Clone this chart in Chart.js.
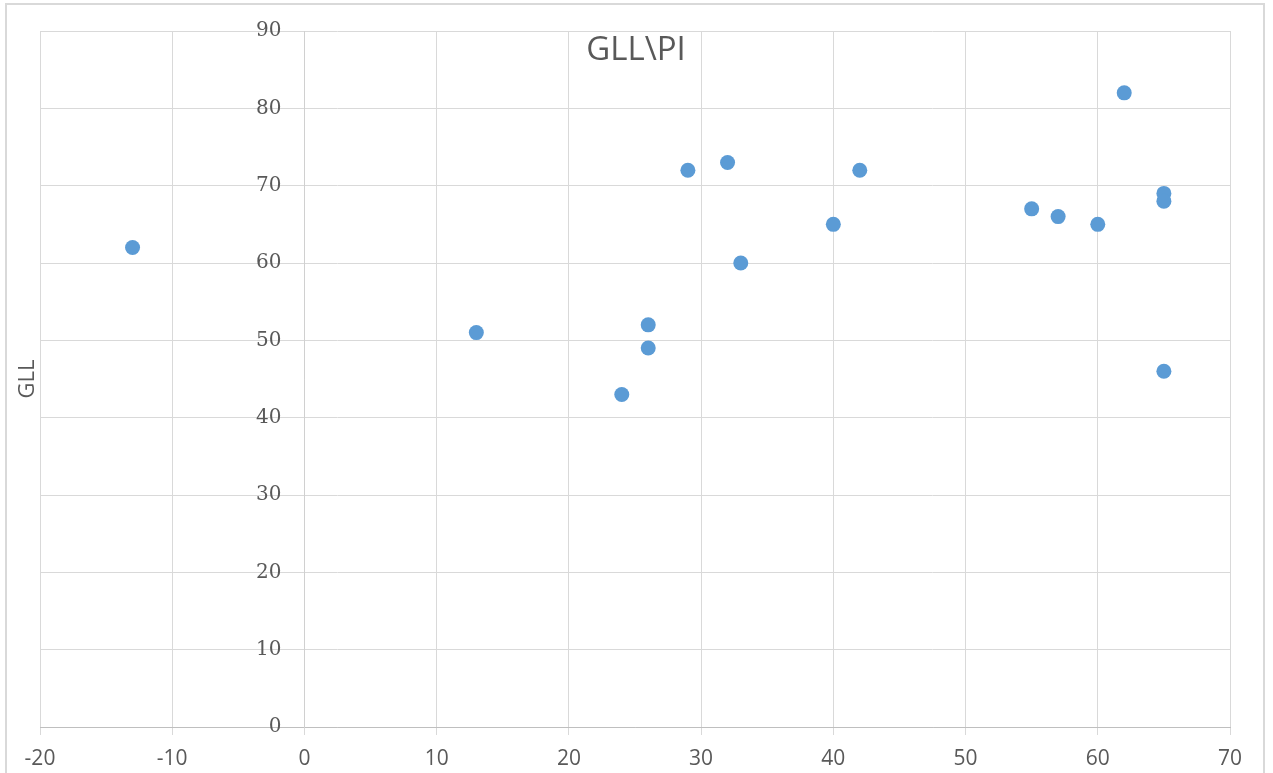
<!DOCTYPE html>
<html>
<head>
<meta charset="utf-8">
<script src="https://cdn.jsdelivr.net/npm/chart.js@4/dist/chart.umd.min.js"></script>
<style>
  html, body { margin: 0; padding: 0; background: #ffffff; overflow: hidden; }
  #wrap { position: absolute; left: 0; top: 0; width: 1273px; height: 773px; }
  #frame { position: absolute; left: 5px; top: 3px; width: 1256px; height: 800px; border: 2px solid #d9d9d9; pointer-events: none; }
</style>
</head>
<body>
<div id="wrap"><canvas id="c" width="1273" height="773"></canvas></div>
<div id="frame"></div>
<script>
// Data
const piValues  = [-13, 13, 24, 26, 26, 29, 32, 33, 40, 42, 55, 57, 60, 62, 65, 65, 65];
const gllValues = [ 62, 51, 43, 52, 49, 72, 73, 60, 65, 72, 67, 66, 65, 82, 69, 68, 46];
const chartTitle = 'GLL\\PI';
const yAxisTitle = 'GLL';
const xTickRange = { min: -20, max: 70, step: 10 };
const yTickRange = { min: 0, max: 90, step: 10 };

const points = piValues.map((x, i) => ({ x: x, y: gllValues[i] }));

const titlePlugin = {
  id: 'overlayTitle',
  afterDraw(chart) {
    const ctx = chart.ctx;
    ctx.save();
    ctx.font = '33px "Open Sans"';
    ctx.fillStyle = '#595959';
    ctx.textAlign = 'center';
    ctx.textBaseline = 'middle';
    ctx.fillText(chartTitle, 636, 51);
    ctx.restore();
  }
};

// Shift the y tick labels (axis crossing at x = 0) a little to the left of the axis line
const yLabelShift = {
  id: 'yLabelShift',
  beforeDraw(chart) {
    const scale = chart.scales.y;
    const items = scale.getLabelItems(chart.chartArea);
    if (items && !items._shifted) {
      items.forEach(it => { it.options.translation[0] -= 23; });
      items._shifted = true;
    }
  }
};

new Chart(document.getElementById('c'), {
  type: 'scatter',
  data: {
    datasets: [{
      label: chartTitle,
      data: points,
      backgroundColor: '#5b9bd5',
      borderColor: '#5b9bd5',
      pointRadius: 7.5,
      pointHoverRadius: 7.5,
      borderWidth: 0
    }]
  },
  options: {
    responsive: false,
    animation: false,
    devicePixelRatio: 1,
    layout: { padding: { top: 31, right: 43, bottom: 0, left: 0 } },
    plugins: {
      legend: { display: false },
      tooltip: { enabled: false },
      title: { display: false }
    },
    scales: {
      x: {
        type: 'linear',
        position: 'bottom',
        min: xTickRange.min,
        max: xTickRange.max,
        ticks: {
          stepSize: xTickRange.step,
          color: '#595959',
          font: { family: 'Open Sans', size: 21 },
          padding: 11
        },
        grid: { color: '#d9d9d9', tickLength: 8, drawTicks: true, tickColor: '#d9d9d9' },
        border: { color: '#bfbfbf' },
        afterFit(scale) { scale.height = 46; }
      },
      y: {
        type: 'linear',
        position: { x: 0 },
        min: yTickRange.min,
        max: yTickRange.max,
        ticks: {
          stepSize: yTickRange.step,
          color: '#595959',
          font: { family: 'DejaVu Serif', size: 20 },
          padding: 0
        },
        grid: { color: '#d9d9d9', drawTicks: false, tickLength: 0 },
        border: { color: '#d0d0d0' }
      },
      yTitle: {
        type: 'linear',
        position: 'left',
        min: 0,
        max: 1,
        ticks: { display: false },
        grid: { display: false, drawTicks: false },
        border: { display: false },
        title: {
          display: true,
          text: yAxisTitle,
          color: '#595959',
          font: { family: 'Open Sans', size: 22 },
          padding: { top: 15, bottom: 0 }
        },
        afterFit(scale) { scale.width = 40; }
      }
    }
  },
  plugins: [titlePlugin, yLabelShift]
});
</script>
</body>
</html>
